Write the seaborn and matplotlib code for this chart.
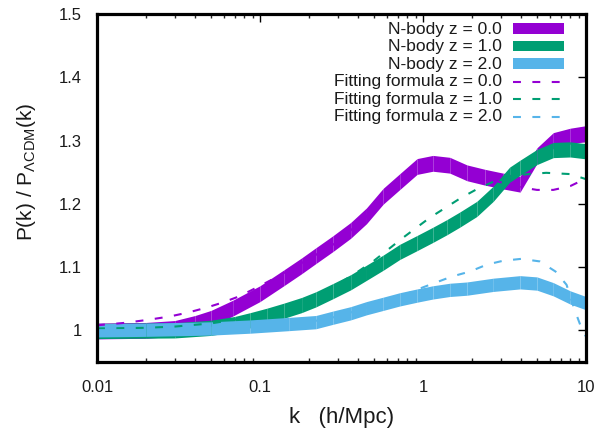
import numpy as np
import pandas as pd
import matplotlib
matplotlib.use("Agg")
import matplotlib.pyplot as plt
import matplotlib.transforms as mtransforms
from matplotlib.patches import Rectangle
from matplotlib.lines import Line2D
from matplotlib.ticker import FixedLocator, FixedFormatter, LogLocator, NullFormatter
import seaborn as sns

# ---------------- data ----------------
# N-body z = 0.0 (band centre)
nb0_k = [0.01, 0.02, 0.03, 0.04, 0.05, 0.068, 0.1, 0.14, 0.18, 0.22, 0.28, 0.36,
         0.45, 0.57, 0.72, 0.92, 1.15, 1.46, 1.86, 2.4, 3.1, 3.94, 5.0, 6.3, 8.0, 10.0]
nb0 = [0.999, 1.000, 1.003, 1.011, 1.019, 1.035, 1.058, 1.083, 1.102, 1.118, 1.137, 1.158,
       1.181, 1.212, 1.235, 1.259, 1.264, 1.261, 1.249, 1.242, 1.236, 1.231, 1.276, 1.300, 1.307, 1.311]
nb0_err = 0.0125

# N-body z = 1.0
nb1_k = [0.01, 0.03, 0.05, 0.07, 0.087, 0.11, 0.14, 0.18, 0.22, 0.28, 0.36, 0.45, 0.57,
         0.72, 0.92, 1.15, 1.4, 1.68, 2.14, 2.7, 3.4, 3.94, 5.0, 6.3, 8.0, 10.0]
nb1 = [0.999, 1.000, 1.004, 1.010, 1.016, 1.023, 1.031, 1.040, 1.049, 1.062, 1.076, 1.091, 1.107,
       1.124, 1.138, 1.151, 1.163, 1.175, 1.192, 1.216, 1.246, 1.257, 1.274, 1.285, 1.286, 1.283]
nb1_err = 0.012

# N-body z = 2.0
nb2_k = [0.01, 0.02, 0.05, 0.087, 0.15, 0.22, 0.28, 0.36, 0.45, 0.57, 0.72, 0.92, 1.15,
         1.46, 1.86, 2.7, 3.94, 5.0, 6.3, 8.0, 10.0]
nb2 = [1.000, 1.001, 1.003, 1.006, 1.010, 1.013, 1.020, 1.027, 1.035, 1.042, 1.049, 1.055, 1.060,
       1.064, 1.066, 1.072, 1.076, 1.074, 1.065, 1.052, 1.043]
nb2_err = 0.0105

# Fitting formula z = 0.0
fit0_k = [0.01, 0.015, 0.021, 0.028, 0.036, 0.047, 0.059, 0.075, 0.096, 0.118, 0.15, 0.2,
          0.3, 0.45, 0.7, 1.0, 1.4, 2.0, 3.0, 4.0, 5.0, 6.3, 8.0, 10.0]
fit0 = [1.008, 1.012, 1.017, 1.022, 1.028, 1.036, 1.044, 1.054, 1.068, 1.080, 1.095, 1.113,
        1.140, 1.180, 1.232, 1.258, 1.260, 1.247, 1.234, 1.226, 1.222, 1.222, 1.228, 1.240]

# Fitting formula z = 1.0
fit1_k = [0.01, 0.02, 0.03, 0.05, 0.07, 0.1, 0.15, 0.2, 0.28, 0.4, 0.5, 0.75, 1.1, 1.7,
          2.1, 2.7, 4.0, 5.7, 8.0, 10.0]
fit1 = [1.003, 1.004, 1.006, 1.011, 1.017, 1.026, 1.038, 1.050, 1.068, 1.093, 1.110, 1.146, 1.178, 1.209,
        1.222, 1.235, 1.246, 1.249, 1.247, 1.239]

# Fitting formula z = 2.0
fit2_k = [0.01, 0.03, 0.1, 0.2, 0.3, 0.45, 0.7, 1.0, 1.5, 1.94, 2.47, 3.1, 4.0, 5.2, 6.5,
          7.6, 8.5, 9.3, 10.0]
fit2 = [1.000, 1.001, 1.006, 1.013, 1.022, 1.036, 1.052, 1.068, 1.085, 1.093, 1.104, 1.110, 1.113, 1.109, 1.093,
        1.072, 1.033, 1.006, 0.990]

series_labels = ["N-body z = 0.0", "N-body z = 1.0", "N-body z = 2.0",
                 "Fitting formula z = 0.0", "Fitting formula z = 1.0", "Fitting formula z = 2.0"]
colors = ["#9400D3", "#009E73", "#56B4E9"]

x_ticks = [0.01, 0.1, 1, 10]
x_ticklabels = ["0.01", "0.1", "1", "10"]
y_ticks = [1.0, 1.1, 1.2, 1.3, 1.4, 1.5]
y_ticklabels = ["1", "1.1", "1.2", "1.3", "1.4", "1.5"]

# ---------------- style ----------------
sns.set_theme(style="white")
plt.rcParams["font.family"] = ["Liberation Sans", "DejaVu Sans"]
plt.rcParams["mathtext.default"] = "regular"
plt.rcParams["axes.unicode_minus"] = False

W, H = 602, 441
fig = plt.figure(figsize=(W / 100, H / 100), dpi=100)
L, R, T, B = 97, 586, 14, 362
ax = fig.add_axes([L / W, 1 - B / H, (R - L) / W, (B - T) / H])
ax.set_facecolor("white")

# bands (N-body), drawn segment by segment like gnuplot filledcurves
bands = [(nb0_k, nb0, nb0_err), (nb1_k, nb1, nb1_err), (nb2_k, nb2, nb2_err)]
for (kk, vv, ee), c in zip(bands, colors):
    kk = np.asarray(kk)
    vv = np.asarray(vv)
    for i in range(len(kk) - 1):
        ax.fill_between(kk[i:i + 2], vv[i:i + 2] - ee, vv[i:i + 2] + ee,
                        color=c, linewidth=0, zorder=2, antialiased=True)

# dashed fitting formula lines
dash_pattern = (0, (3.8, 5.5))
fits = [(fit0_k, fit0), (fit1_k, fit1), (fit2_k, fit2)]
for (kk, vv), c in zip(fits, colors):
    df = pd.DataFrame({"k": kk, "r": vv})
    sns.lineplot(data=df, x="k", y="r", ax=ax, color=c, linewidth=1.5,
                 linestyle=dash_pattern, zorder=3, legend=False)

ax.set_xscale("log")
ax.set_xlim(0.01, 10)
ax.set_ylim(0.95, 1.5)

ax.xaxis.set_major_locator(FixedLocator(x_ticks))
ax.xaxis.set_major_formatter(FixedFormatter(x_ticklabels))
ax.xaxis.set_minor_locator(LogLocator(base=10, subs=np.arange(2, 10), numticks=20))
ax.xaxis.set_minor_formatter(NullFormatter())
ax.yaxis.set_major_locator(FixedLocator(y_ticks))
ax.yaxis.set_major_formatter(FixedFormatter(y_ticklabels))

ax.tick_params(axis="both", which="major", direction="in", length=5.5, width=1.0,
               top=True, right=True, labelsize=12, colors="black", labelcolor="#1a1a1a")
ax.tick_params(axis="x", which="major", pad=13)
ax.tick_params(axis="y", which="major", pad=11)
ax.tick_params(axis="x", which="minor", direction="in", length=3, width=1.0,
               top=True, bottom=True)
for sp in ax.spines.values():
    sp.set_linewidth(2.3)
    sp.set_color("black")
    sp.set_zorder(5)

ax.set_xlabel("k   (h/Mpc)", fontsize=16, color="#1a1a1a")
ax.set_ylabel(r"P(k) / P$_{ΛCDM}$(k)", fontsize=15, color="#1a1a1a")
ax.xaxis.set_label_coords(0.5, -(417 - B) / (B - T))
ax.xaxis.label.set_va("center")
ax.yaxis.set_label_coords((27 - L) / (R - L), (B - 172) / (B - T))
ax.yaxis.label.set_va("center")
ax.grid(False)

# ---------------- legend (gnuplot style: text right-justified, sample on right) ----------------
px = mtransforms.Affine2D().scale(1 / W, -1 / H).translate(0, 1) + fig.transFigure
rows_y = [29.3, 46.8, 64.3, 81.8, 99.3, 116.8]
for i, lab in enumerate(series_labels):
    fig.text(502, rows_y[i], lab, transform=px, ha="right", va="center",
             fontsize=12.5, color="#1a1a1a")
for i, c in enumerate(colors):
    fig.patches.append(Rectangle((512.5, rows_y[i] - 6.2), 51, 10.5, transform=px,
                                 facecolor=c, edgecolor="none"))
for i, c in enumerate(colors):
    y = rows_y[3 + i]
    fig.lines.append(Line2D([513, 560], [y, y], transform=px, color=c,
                            linewidth=1.5, linestyle=dash_pattern))

fig.savefig("out.png", dpi=100)
